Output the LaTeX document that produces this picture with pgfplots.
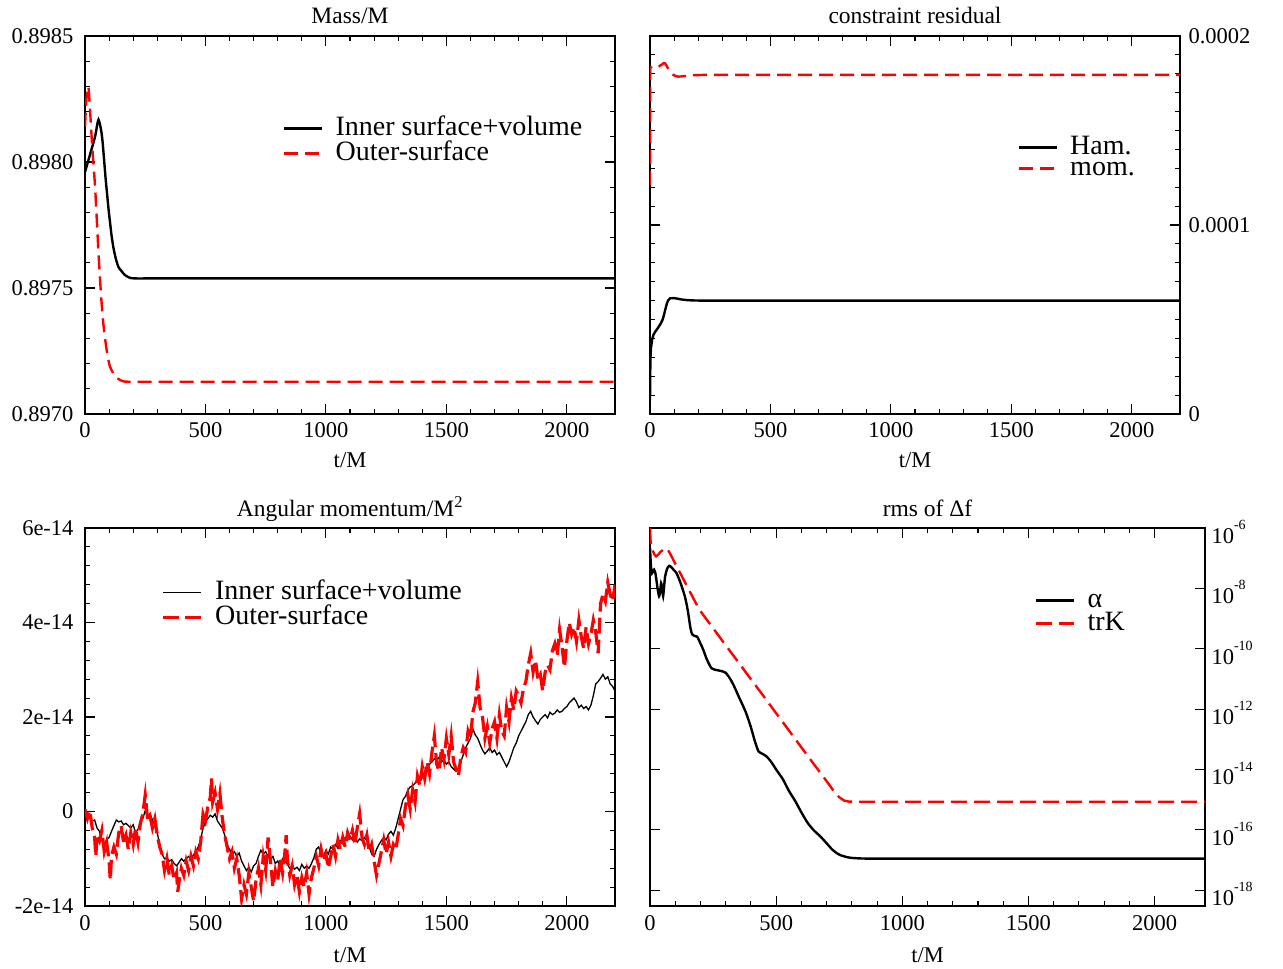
\documentclass[border=0pt]{standalone}
\usepackage{fontspec}
\setmainfont{Liberation Serif}
\usepackage{pgfplots}
\pgfplotsset{compat=1.18}

\newcommand\tk{\fontsize{22.5bp}{26bp}\selectfont}
\newcommand\tl{\fontsize{23.5bp}{28bp}\selectfont}
\newcommand\lgf{\fontsize{28bp}{30bp}\selectfont}
\newcommand\pw[1]{10\raisebox{0.62em}{\fontsize{14bp}{14bp}\selectfont -#1}}

\pgfplotsset{
 gr/.style={
  scale only axis, width=530bp, height=378bp,
  xmin=0, xmax=2200, xtick={0,500,1000,1500,2000}, minor x tick num=4,
  xtick pos=both, ytick pos=both, tick align=inside,
  major tick length=10bp, minor tick length=5bp,
  axis line style={line width=1.3bp},
  tick style={line width=1.1bp, black},
  tick label style={font=\tk}, label style={font=\tk},
  /pgf/number format/assume math mode=true,
  /pgf/number format/1000 sep={},
  xticklabel style={yshift=-5bp},
  xlabel={t/M}, xlabel style={yshift=-8bp},
  title style={font=\tl, at={(0.5,1)}, anchor=base, yshift=7bp},
  legend style={draw=none, fill=none, font=\lgf, inner sep=0pt, outer sep=0pt,
    anchor=north west, column sep=12bp, row sep=0bp,
    nodes={inner sep=0pt, text height=19bp, text depth=6bp}},
  legend cell align=left,
  legend image code/.code={\draw[##1] (0bp,0bp) -- (38bp,0bp);},
 },
 blk/.style={black, line width=2.4bp},
 rd/.style={red, line width=2.4bp, dash pattern=on 14bp off 7bp},
}

\begin{document}
\begin{tikzpicture}
\useasboundingbox (0,0) rectangle (1283bp,969bp);

% ---------------- Panel 1: Mass/M
\begin{axis}[gr, at={(85bp,555bp)}, anchor=south west,
  title={Mass/M},
  ymin=0.897, ymax=0.8985, ytick={0.897,0.8975,0.898,0.8985}, minor y tick num=4,
  scaled y ticks=false,
  yticklabel style={xshift=-8bp, /pgf/number format/.cd, fixed, fixed zerofill, precision=4},
  legend style={at={(0.374,0.788)}}]
\addplot[blk, smooth, tension=0.4] coordinates {
(0,0.89796) (12,0.89800) (24,0.89804) (36,0.89808) (44,0.89811) (50,0.898145) (56,0.898168)
(62,0.898150) (68,0.89812) (73,0.89808) (80,0.89800) (86,0.89793) (92,0.89787) (98,0.89781)
(104,0.89776) (110,0.89771) (118,0.89766) (127,0.89762) (138,0.897585) (149,0.89757)
(165,0.897552) (183,0.897542) (210,0.897538) (400,0.897538) (2200,0.897538)};
\addlegendentry{Inner surface+volume}
\addplot[rd, smooth, tension=0.4] coordinates {
(0,0.89814) (4,0.89822) (8,0.89827) (14,0.89830) (20,0.89822) (25,0.89814) (30,0.89806)
(36,0.89798) (42,0.89790) (49,0.89777) (56,0.89764) (62,0.89754) (69,0.89744) (77,0.89735)
(86,0.89728) (94,0.89723) (103,0.89719) (118,0.897160) (132,0.897143) (158,0.897130)
(190,0.897128) (400,0.897128) (2200,0.897128)};
\addlegendentry{Outer-surface}
\end{axis}

% ---------------- Panel 2: constraint residual
\begin{axis}[gr, at={(650bp,555bp)}, anchor=south west,
  title={constraint residual},
  ymin=0, ymax=0.0002, ytick={0,0.0001,0.0002}, minor y tick num=9,
  scaled y ticks=false, yticklabel pos=right,
  yticklabel style={xshift=5bp, /pgf/number format/.cd, fixed, precision=4},
  legend style={at={(0.694,0.738)}, row sep=-4bp}]
\addplot[blk] coordinates {
(0,0.0000074) (1,0.000022) (2,0.000030) (4,0.0000349) (9,0.0000395) (14,0.0000418)
(22,0.0000436) (30,0.0000450) (38,0.0000465) (45,0.0000480) (53,0.0000501) (59,0.000053)
(65,0.000056) (70,0.0000585) (75,0.0000600) (83,0.0000612) (100,0.0000613) (115,0.0000610)
(130,0.0000606) (150,0.0000603) (175,0.0000601) (210,0.00006) (2200,0.00006)};
\addlegendentry{Ham.}
\addplot[rd] coordinates {
(0,0.0001212) (1,0.000183) (8,0.0001838) (18,0.0001836) (28,0.0001834) (38,0.000184)
(48,0.0001848) (56,0.0001856) (62,0.0001856) (68,0.0001845) (74,0.000183) (80,0.0001816)
(88,0.0001803) (97,0.0001794) (107,0.0001788) (117,0.0001785) (130,0.0001786) (145,0.0001788)
(170,0.0001792) (220,0.0001794) (2200,0.0001794)};
\addlegendentry{mom.}
\end{axis}

% ---------------- Panel 3: Angular momentum
\begin{axis}[gr, at={(85bp,63bp)}, anchor=south west,
  title={Angular momentum/M\textsuperscript{2}}, title style={yshift=-1bp},
  ymin=-2, ymax=6, ytick={-2,0,2,4,6}, minor y tick num=4,
  yticklabels={-2e-14,0,2e-14,4e-14,6e-14},
  yticklabel style={xshift=-8bp},
  xticklabel style={yshift=-1bp}, xlabel style={yshift=-2bp},
  legend style={at={(0.145,0.862)}}]
\addplot[black, line width=1.3bp] coordinates {
(0,0.02) (10,-0.05) (20,-0.12) (30,-0.2) (40,-0.18) (50,-0.35) (60,-0.42) (70,-0.62) (80,-0.68)
(90,-0.6) (100,-0.55) (110,-0.42) (120,-0.3) (130,-0.18) (140,-0.22) (150,-0.2) (160,-0.28)
(170,-0.25) (180,-0.3) (190,-0.35) (200,-0.28) (210,-0.45) (220,-0.38) (230,-0.2) (240,-0.15)
(250,0.02) (260,-0.1) (270,-0.05) (280,-0.18) (290,-0.3) (300,-0.45) (310,-0.7) (320,-0.9)
(330,-1.0) (340,-0.98) (350,-1.05) (360,-1.02) (370,-1.1) (380,-1.15) (390,-1.08) (400,-1.0)
(410,-1.05) (420,-1.0) (430,-0.95) (440,-1.0) (450,-0.92) (460,-0.85) (470,-0.75) (480,-0.6)
(490,-0.35) (500,-0.22) (510,-0.15) (520,-0.08) (530,-0.12) (540,-0.05) (550,-0.2) (560,-0.28)
(570,-0.35) (580,-0.5) (590,-0.7) (600,-0.8) (610,-0.9) (620,-0.85) (630,-0.95) (640,-0.88)
(650,-1.05) (660,-1.15) (670,-1.25) (680,-1.18) (690,-1.28) (700,-1.15) (710,-1.1) (720,-0.95)
(730,-0.82) (740,-0.9) (750,-0.85) (760,-0.95) (770,-1.02) (780,-0.95) (790,-1.1) (800,-1.05)
(810,-1.15) (820,-1.0) (830,-1.05) (840,-1.12) (850,-1.2) (860,-1.15) (870,-1.22) (880,-1.18)
(890,-1.25) (900,-1.12) (910,-1.2) (920,-1.15) (930,-1.2) (940,-1.1) (950,-0.98) (960,-0.8)
(970,-0.75) (980,-0.9) (990,-0.95) (1000,-0.82) (1010,-0.9) (1020,-0.75) (1030,-0.8) (1040,-0.7)
(1050,-0.78) (1060,-0.62) (1070,-0.68) (1080,-0.55) (1090,-0.6) (1100,-0.52) (1110,-0.6)
(1120,-0.55) (1130,-0.65) (1140,-0.58) (1150,-0.62) (1160,-0.55) (1170,-0.62) (1180,-0.75)
(1190,-0.9) (1200,-0.95) (1210,-0.8) (1220,-0.7) (1230,-0.62) (1240,-0.55) (1250,-0.6)
(1260,-0.48) (1270,-0.42) (1280,-0.5) (1290,-0.35) (1300,-0.15) (1310,0.05) (1320,0.25)
(1330,0.32) (1340,0.45) (1350,0.52) (1360,0.55) (1370,0.6) (1380,0.68) (1390,0.65) (1400,0.72)
(1410,0.85) (1420,0.9) (1430,1.0) (1440,1.05) (1450,1.12) (1460,1.08) (1470,1.15) (1480,1.05)
(1490,1.1) (1500,1.0) (1510,1.05) (1520,0.95) (1530,0.9) (1540,0.85) (1550,0.92) (1560,1.05)
(1570,1.2) (1580,1.35) (1590,1.45) (1600,1.55) (1610,1.75) (1620,1.62) (1630,1.55) (1640,1.42)
(1650,1.3) (1660,1.22) (1670,1.28) (1680,1.35) (1690,1.25) (1700,1.3) (1710,1.2) (1720,1.25)
(1730,1.15) (1740,1.05) (1750,0.95) (1760,1.05) (1770,1.2) (1780,1.35) (1790,1.45) (1800,1.6)
(1810,1.7) (1820,1.8) (1830,1.9) (1840,2.05) (1850,2.12) (1860,2.0) (1870,1.92) (1880,1.85)
(1890,1.95) (1900,2.0) (1910,2.05) (1920,1.98) (1930,2.1) (1940,2.05) (1950,2.08) (1960,2.15)
(1970,2.1) (1980,2.12) (1990,2.18) (2000,2.22) (2010,2.3) (2020,2.35) (2030,2.4) (2040,2.32)
(2050,2.2) (2060,2.25) (2070,2.18) (2080,2.22) (2090,2.15) (2100,2.25) (2110,2.45) (2120,2.7)
(2130,2.75) (2140,2.82) (2150,2.9) (2160,2.8) (2170,2.85) (2180,2.7) (2190,2.65) (2200,2.55)};
\addlegendentry{Inner surface+volume}
\addplot[red, line width=3.2bp, dash pattern=on 16bp off 6bp] coordinates {
(0,0.05) (10,-0.15) (20,0.02) (30,-0.35) (40,-0.55) (45,-0.95) (50,-0.5) (60,-0.62) (70,-0.4)
(80,-0.85) (90,-0.65) (100,-1.05) (105,-1.45) (110,-0.95) (120,-0.75) (130,-0.9) (140,-0.45)
(150,-0.3) (160,-0.65) (170,-0.5) (180,-0.8) (190,-0.45) (200,-0.7) (210,-0.35) (220,-0.65)
(230,-0.25) (240,-0.05) (250,0.35) (255,0.1) (260,-0.2) (270,-0.1) (280,-0.35) (290,-0.15)
(300,-0.5) (310,-0.75) (320,-0.9) (330,-1.25) (340,-1.0) (350,-1.35) (360,-1.15) (370,-1.45)
(380,-1.3) (385,-1.7) (390,-1.5) (400,-1.2) (410,-1.35) (420,-1.05) (430,-1.25) (440,-0.95)
(450,-1.15) (460,-0.85) (470,-1.0) (480,-0.65) (490,-0.05) (500,-0.2) (510,0.1) (520,0.3)
(525,0.7) (530,0.2) (540,0.4) (550,0.05) (560,0.38) (570,-0.15) (580,-0.5) (590,-0.75)
(600,-1.0) (610,-0.85) (620,-1.2) (630,-1.0) (640,-1.35) (650,-1.85) (660,-1.55) (670,-1.75)
(680,-1.3) (690,-1.6) (700,-1.9) (710,-1.45) (720,-1.2) (730,-1.55) (740,-0.95) (750,-1.25)
(760,-0.55) (770,-1.05) (780,-1.6) (790,-1.25) (800,-1.45) (810,-1.0) (820,-1.3) (830,-0.85)
(835,-0.5) (840,-1.0) (850,-1.35) (860,-1.15) (870,-1.55) (880,-1.35) (890,-1.7) (900,-1.4)
(910,-1.6) (920,-1.3) (930,-1.75) (940,-1.4) (950,-1.2) (960,-0.95) (970,-1.15) (980,-0.8)
(990,-1.05) (1000,-0.9) (1010,-1.2) (1020,-0.95) (1030,-0.7) (1040,-0.95) (1050,-0.6)
(1060,-0.8) (1070,-0.55) (1080,-0.75) (1090,-0.45) (1100,-0.6) (1110,-0.4) (1120,-0.7)
(1130,-0.35) (1140,-0.05) (1150,-0.55) (1160,-0.7) (1170,-0.5) (1180,-0.85) (1190,-0.7)
(1200,-1.05) (1210,-1.35) (1220,-1.1) (1230,-0.85) (1240,-0.6) (1250,-0.9) (1260,-0.65)
(1270,-0.95) (1280,-0.7) (1290,-0.8) (1300,-0.5) (1310,-0.15) (1320,-0.3) (1330,0.1)
(1340,0.35) (1350,0.05) (1360,0.45) (1370,0.2) (1380,0.75) (1390,0.55) (1400,0.95) (1410,0.7)
(1420,1.05) (1430,0.8) (1440,1.25) (1450,1.6) (1460,1.0) (1470,0.85) (1480,1.35) (1490,1.1)
(1500,1.55) (1510,1.2) (1520,1.6) (1530,1.05) (1540,0.9) (1550,0.75) (1560,1.15) (1570,1.35)
(1580,1.25) (1590,1.7) (1600,1.55) (1610,2.1) (1620,2.3) (1630,2.75) (1640,2.2) (1650,2.0)
(1660,1.55) (1670,1.8) (1680,1.45) (1690,1.75) (1700,1.9) (1710,1.55) (1720,2.05) (1730,1.7)
(1740,1.6) (1750,2.2) (1760,1.9) (1770,2.4) (1780,2.15) (1790,2.55) (1800,2.45) (1810,2.3)
(1820,2.6) (1830,2.75) (1840,3.1) (1850,3.35) (1860,2.95) (1870,3.2) (1880,2.8) (1890,2.9)
(1900,2.55) (1910,2.95) (1920,3.1) (1930,3.0) (1940,3.4) (1950,3.55) (1960,3.3) (1970,3.85)
(1980,3.5) (1990,3.05) (2000,3.6) (2010,4.0) (2020,3.75) (2030,3.9) (2040,3.6) (2050,4.05)
(2060,3.7) (2070,3.45) (2080,3.9) (2090,3.55) (2100,3.75) (2110,4.05) (2120,3.8) (2130,3.35)
(2140,4.4) (2150,4.6) (2160,4.45) (2170,4.85) (2180,4.6) (2190,4.45) (2200,4.8)};
\addlegendentry{Outer-surface}
\end{axis}

% ---------------- Panel 4: rms of Delta f
\begin{axis}[gr, at={(650bp,63bp)}, anchor=south west, width=555bp,
  title={rms of Δf}, title style={yshift=-1bp},
  ymode=log, ymin=3e-19, ymax=1e-6,
  ytick={1e-18,1e-16,1e-14,1e-12,1e-10,1e-8,1e-6},
  yticklabels={\pw{18},\pw{16},\pw{14},\pw{12},\pw{10},\pw{8},\pw{6}},
  yticklabel pos=right, yticklabel style={xshift=3bp, yshift=-4bp},
  xticklabel style={yshift=-1bp}, xlabel style={yshift=-2bp},
  legend style={at={(0.694,0.841)}, row sep=-2bp}]
\addplot[blk, smooth, tension=0.4] coordinates {
(0,2.2e-7) (4,5e-8) (8,3.2e-8) (12,3.8e-8) (16,4.2e-8) (22,3e-8) (30,1e-8) (36,5.5e-9)
(40,8e-9) (44,1.5e-8) (48,1e-8) (52,5.5e-9) (56,1.2e-8) (60,2.5e-8) (68,4.5e-8) (76,5.6e-8)
(85,5e-8) (95,4e-8) (105,3.2e-8) (120,1.6e-8) (138,5.5e-9) (150,1.8e-9) (160,5e-10)
(167,3e-10) (175,2.7e-10) (187,2.5e-10) (200,1.5e-10) (211,9.3e-11) (225,4.5e-11)
(243,2.3e-11) (260,2.0e-11) (280,1.85e-11) (300,1.6e-11) (318,1e-11) (333,5.8e-12)
(350,2.8e-12) (365,1.5e-12) (381,7.4e-13) (400,2.5e-13) (415,9e-14) (430,4e-14)
(446,3.3e-14) (462,2.7e-14) (479,1.86e-14) (500,1e-14) (527,4.7e-15) (550,2e-15)
(576,8.9e-16) (600,3.8e-16) (625,1.7e-16) (650,9.5e-17) (674,6.2e-17) (700,3.6e-17)
(722,2.24e-17) (740,1.7e-17) (755,1.45e-17) (780,1.25e-17) (803,1.17e-17) (852,1.12e-17)
(1000,1.12e-17) (2200,1.12e-17)};
\addlegendentry{α}
\addplot[red, line width=2.4bp, dash pattern=on 16bp off 7bp] coordinates {
(0,1e-6) (2,4e-7) (5,2.2e-7) (12,1.7e-7) (18,1.3e-7) (24,1.15e-7) (32,1.3e-7) (41,1.6e-7)
(55,2e-7) (68,2.1e-7) (80,1.4e-7) (100,6.6e-8) (130,2.2e-8) (160,7.2e-9) (195,2e-9)
(250,4.8e-10) (300,1.3e-10) (350,3.6e-11) (400,9.8e-12) (450,2.7e-12) (500,7.3e-13)
(550,2e-13) (600,5.4e-14) (650,1.48e-14) (700,4.1e-15) (730,1.86e-15) (750,1.2e-15)
(770,9.3e-16) (790,8.6e-16) (820,8.5e-16) (1000,8.5e-16) (2200,8.5e-16)};
\addlegendentry{trK}
\end{axis}
\end{tikzpicture}
\end{document}
